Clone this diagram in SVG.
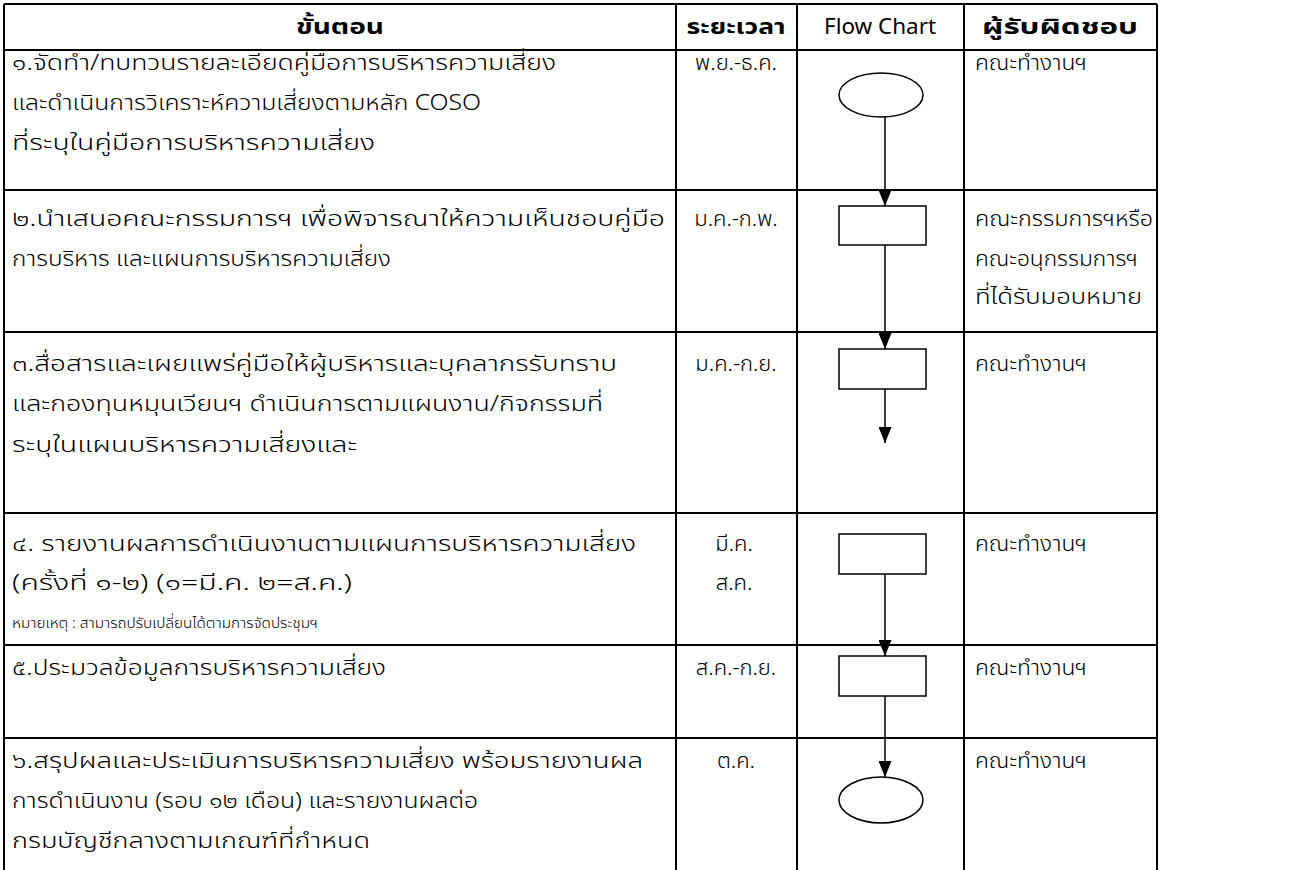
<svg xmlns="http://www.w3.org/2000/svg" width="1291" height="870" viewBox="0 0 1291 870">
<style>
.grid{stroke:#000;stroke-width:2;fill:none}
.t{font-family:"Noto Sans Thai","Noto Sans","DejaVu Sans",sans-serif;font-size:22px;font-weight:300;fill:#000}
.h{font-family:"Noto Sans Thai","Noto Sans","DejaVu Sans",sans-serif;font-size:22px;font-weight:bold;fill:#000}
.hn{font-family:"Noto Sans","Open Sans",sans-serif;font-size:22px;fill:#000}
.s{font-family:"Noto Sans Thai","Noto Sans","DejaVu Sans",sans-serif;font-size:15px;font-weight:300;fill:#000}
.c{text-anchor:middle}
.shape{fill:#fff;stroke:#000;stroke-width:1.5}
.conn{stroke:#000;stroke-width:1.5;fill:none}
</style>
<defs>
<marker id="arr" viewBox="0 0 16 13" refX="16" refY="6.5" markerWidth="16" markerHeight="13" markerUnits="userSpaceOnUse" orient="auto">
<path d="M0,0 L16,6.5 L0,13 z" fill="#000"/>
</marker>
</defs>
<rect width="1291" height="870" fill="#fff"/>
<g id="table">
<path class="grid" d="M4,4 H1157 M4,50 H1157 M4,190 H1157 M4,332 H1157 M4,513 H1157 M4,645 H1157 M4,738 H1157 M4,4 V870 M676,4 V870 M797,4 V870 M964,4 V870 M1157,4 V870"/>
</g>
<g id="header">
<text class="h c" x="340" y="34" textLength="88" lengthAdjust="spacingAndGlyphs">ขั้นตอน</text>
<text class="h c" x="736" y="34" textLength="99" lengthAdjust="spacingAndGlyphs">ระยะเวลา</text>
<text class="hn c" x="880" y="34" textLength="112" lengthAdjust="spacingAndGlyphs">Flow Chart</text>
<text class="h c" x="1060" y="34" textLength="156" lengthAdjust="spacingAndGlyphs">ผู้รับผิดชอบ</text>
</g>
<g id="row1">
<text class="t" x="12" y="70" textLength="544" lengthAdjust="spacingAndGlyphs">๑.จัดทำ/ทบทวนรายละเอียดคู่มือการบริหารความเสี่ยง</text>
<text class="t" x="12" y="110" textLength="469" lengthAdjust="spacingAndGlyphs">และดำเนินการวิเคราะห์ความเสี่ยงตามหลัก COSO</text>
<text class="t" x="12" y="150" textLength="363" lengthAdjust="spacingAndGlyphs">ที่ระบุในคู่มือการบริหารความเสี่ยง</text>
<text class="t c" x="736" y="70">พ.ย.-ธ.ค.</text>
<text class="t" x="975" y="70" textLength="112" lengthAdjust="spacingAndGlyphs">คณะทำงานฯ</text>
</g>
<g id="row2">
<text class="t" x="12" y="226" textLength="653" lengthAdjust="spacingAndGlyphs">๒.นำเสนอคณะกรรมการฯ เพื่อพิจารณาให้ความเห็นชอบคู่มือ</text>
<text class="t" x="12" y="266" textLength="379" lengthAdjust="spacingAndGlyphs">การบริหาร และแผนการบริหารความเสี่ยง</text>
<text class="t c" x="736" y="226">ม.ค.-ก.พ.</text>
<text class="t" x="975" y="226" textLength="178" lengthAdjust="spacingAndGlyphs">คณะกรรมการฯหรือ</text>
<text class="t" x="975" y="266" textLength="163" lengthAdjust="spacingAndGlyphs">คณะอนุกรรมการฯ</text>
<text class="t" x="975" y="304" textLength="167" lengthAdjust="spacingAndGlyphs">ที่ได้รับมอบหมาย</text>
</g>
<g id="row3">
<text class="t" x="12" y="371" textLength="605" lengthAdjust="spacingAndGlyphs">๓.สื่อสารและเผยแพร่คู่มือให้ผู้บริหารและบุคลากรรับทราบ</text>
<text class="t" x="12" y="411" textLength="591" lengthAdjust="spacingAndGlyphs">และกองทุนหมุนเวียนฯ ดำเนินการตามแผนงาน/กิจกรรมที่</text>
<text class="t" x="12" y="452" textLength="345" lengthAdjust="spacingAndGlyphs">ระบุในแผนบริหารความเสี่ยงและ</text>
<text class="t c" x="736" y="371">ม.ค.-ก.ย.</text>
<text class="t" x="975" y="371" textLength="112" lengthAdjust="spacingAndGlyphs">คณะทำงานฯ</text>
</g>
<g id="row4">
<text class="t" x="12" y="551" textLength="624" lengthAdjust="spacingAndGlyphs">๔. รายงานผลการดำเนินงานตามแผนการบริหารความเสี่ยง</text>
<text class="t" x="12" y="590" textLength="340" lengthAdjust="spacingAndGlyphs">(ครั้งที่ ๑-๒) (๑=มี.ค. ๒=ส.ค.)</text>
<text class="s" x="12" y="628" textLength="306" lengthAdjust="spacingAndGlyphs">หมายเหตุ : สามารถปรับเปลี่ยนได้ตามการจัดประชุมฯ</text>
<text class="t c" x="734" y="551">มี.ค.</text>
<text class="t c" x="734" y="590">ส.ค.</text>
<text class="t" x="975" y="551" textLength="112" lengthAdjust="spacingAndGlyphs">คณะทำงานฯ</text>
</g>
<g id="row5">
<text class="t" x="12" y="675" textLength="374" lengthAdjust="spacingAndGlyphs">๕.ประมวลข้อมูลการบริหารความเสี่ยง</text>
<text class="t c" x="736" y="675">ส.ค.-ก.ย.</text>
<text class="t" x="975" y="675" textLength="112" lengthAdjust="spacingAndGlyphs">คณะทำงานฯ</text>
</g>
<g id="row6">
<text class="t" x="12" y="768" textLength="631" lengthAdjust="spacingAndGlyphs">๖.สรุปผลและประเมินการบริหารความเสี่ยง พร้อมรายงานผล</text>
<text class="t" x="12" y="808" textLength="466" lengthAdjust="spacingAndGlyphs">การดำเนินงาน (รอบ ๑๒ เดือน) และรายงานผลต่อ</text>
<text class="t" x="12" y="848" textLength="358" lengthAdjust="spacingAndGlyphs">กรมบัญชีกลางตามเกณฑ์ที่กำหนด</text>
<text class="t c" x="736" y="768">ต.ค.</text>
<text class="t" x="975" y="768" textLength="112" lengthAdjust="spacingAndGlyphs">คณะทำงานฯ</text>
</g>
<g id="connectors">
<line class="conn" x1="885" y1="117" x2="885" y2="206" marker-end="url(#arr)"/>
<line class="conn" x1="885" y1="245" x2="885" y2="349" marker-end="url(#arr)"/>
<line class="conn" x1="885" y1="389" x2="885" y2="443" marker-end="url(#arr)"/>
<line class="conn" x1="885" y1="574" x2="885" y2="656" marker-end="url(#arr)"/>
<line class="conn" x1="885" y1="696" x2="885" y2="777" marker-end="url(#arr)"/>
</g>
<g id="start"><ellipse class="shape" cx="881" cy="95" rx="42" ry="22"/></g>
<g id="step2"><rect class="shape" x="839" y="206" width="87" height="39"/></g>
<g id="step3"><rect class="shape" x="839" y="349" width="87" height="40"/></g>
<g id="step4"><rect class="shape" x="839" y="534" width="87" height="40"/></g>
<g id="step5"><rect class="shape" x="839" y="656" width="87" height="40"/></g>
<g id="end"><ellipse class="shape" cx="881" cy="800" rx="42" ry="23"/></g>
</svg>
